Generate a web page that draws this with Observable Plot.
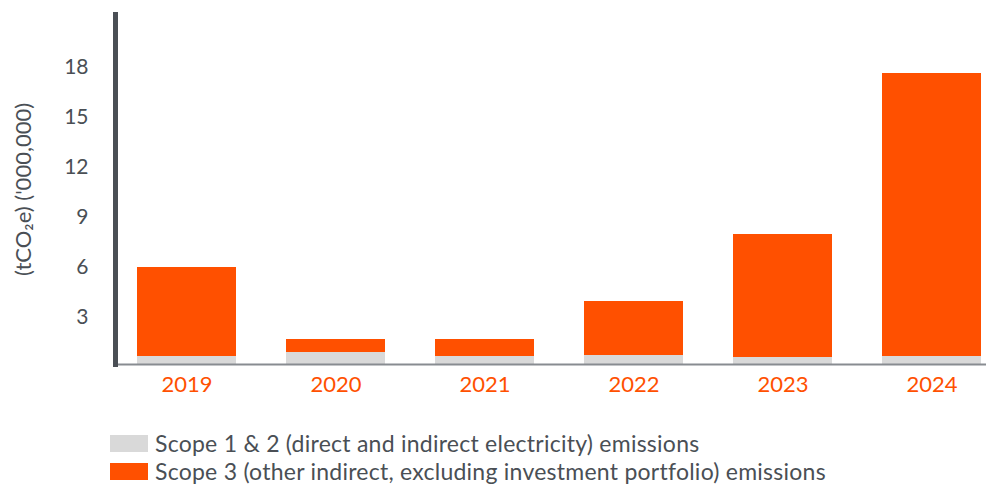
<!DOCTYPE html>
<html>
<head>
<meta charset="utf-8">
<script src="https://cdn.jsdelivr.net/npm/d3@7"></script>
<script src="https://cdn.jsdelivr.net/npm/@observablehq/plot@0.6"></script>
<style>
  body { margin: 0; background: #fff; font-family: Lato, "Open Sans", sans-serif; }
  #wrap { position: relative; width: 986px; height: 484px; overflow: hidden; }
  .legend { position: absolute; left: 110px; display: flex; align-items: center; font-size: 23px; line-height: 23px; letter-spacing: 0.25px; color: #4a4f55; white-space: nowrap; }
  .sw { width: 38px; height: 17px; margin-right: 7px; flex: none; }
</style>
</head>
<body>
<div id="wrap"></div>
<script>
const years = ["2019", "2020", "2021", "2022", "2023", "2024"];
const scope12 = [0.48, 0.72, 0.48, 0.54, 0.42, 0.48];
const scope3 = [5.34, 0.78, 1.02, 3.24, 7.38, 16.98];
const seriesNames = ["Scope 1 & 2 (direct and indirect electricity) emissions", "Scope 3 (other indirect, excluding investment portfolio) emissions"];
const seriesColors = ["#d9d9d9", "#ff5000"];
const yTicks = [3, 6, 9, 12, 15, 18];

const data = [];
years.forEach((y, i) => {
  data.push({year: y, series: seriesNames[0], value: scope12[i]});
  data.push({year: y, series: seriesNames[1], value: scope3[i]});
});

const chart = Plot.plot({
  width: 986,
  height: 410,
  marginLeft: 115,
  marginRight: 0,
  marginTop: 14,
  marginBottom: 46,
  style: {fontFamily: "Lato, 'Open Sans', sans-serif", background: "#fff"},
  x: {domain: years, paddingInner: 0.336, paddingOuter: 0, insetLeft: 22, insetRight: 5, label: null},
  y: {domain: [0, 21], label: null},
  color: {domain: seriesNames, range: seriesColors},
  marks: [
    Plot.barY(data, {x: "year", y: "value", fill: "series", order: seriesNames}),
    Plot.axisY({ticks: yTicks, tickSize: 0, tickPadding: 27, fontSize: 21, color: "#4a4f55", dy: 3,
      label: "(tCO₂e) ('000,000)", labelAnchor: "center", labelArrow: "none", labelOffset: 100}),
    Plot.axisX({tickSize: 0, tickPadding: 12, fontSize: 22, color: "#ff5000"}),
    Plot.frame({anchor: "bottom", stroke: "#888c91", strokeWidth: 2}),
    Plot.frame({anchor: "left", stroke: "#4a4f55", strokeWidth: 5})
  ]
});
const wrap = document.getElementById("wrap");
wrap.appendChild(chart);
chart.style.position = "absolute";
chart.style.left = "0"; chart.style.top = "0";
chart.querySelectorAll("g[aria-label='y-axis label'] text").forEach(t => { t.setAttribute("font-size", "22"); t.style.fontSize = "22px"; t.setAttribute("fill", "#4a4f55"); });

[432, 460].forEach((top, i) => {
  const d = document.createElement("div");
  d.className = "legend";
  d.style.top = top + "px";
  d.style.height = "23px";
  d.innerHTML = `<div class="sw" style="background:${seriesColors[i]}"></div><span>${seriesNames[i]}</span>`;
  wrap.appendChild(d);
});
</script>
</body>
</html>
